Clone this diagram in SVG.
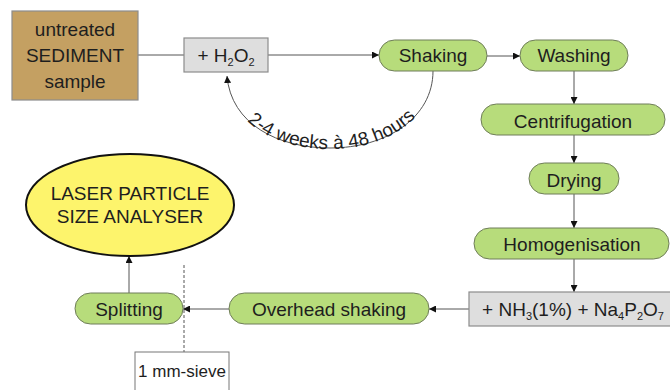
<svg xmlns="http://www.w3.org/2000/svg" width="670" height="390" viewBox="0 0 670 390">
<defs>
<style>
text{font-family:"Liberation Sans",Arial,sans-serif;font-size:19px;fill:#1e1e1e;text-anchor:middle}
.green{fill:#b7dc7b;stroke:#6f7d5a;stroke-width:1}
.gray{fill:#dedede;stroke:#8c8c8c;stroke-width:1.2}
.conn{fill:none;stroke:#555;stroke-width:1}
.sub{font-size:11px}
</style>
<marker id="arr" viewBox="0 0 10 10" refX="10" refY="5" markerWidth="7" markerHeight="7" orient="auto-start-reverse" markerUnits="userSpaceOnUse">
<path d="M0,0 L10,5 L0,10 z" fill="#111"/>
</marker>
</defs>
<rect width="670" height="390" fill="#fff"/>
<g id="connectors">
<line class="conn" x1="138" y1="55" x2="184" y2="55"/>
<line class="conn" x1="268" y1="55" x2="379" y2="55" marker-end="url(#arr)"/>
<line class="conn" x1="487" y1="56" x2="520" y2="56" marker-end="url(#arr)"/>
<line class="conn" x1="574" y1="71" x2="574" y2="104" marker-end="url(#arr)"/>
<line class="conn" x1="574" y1="135" x2="574" y2="163" marker-end="url(#arr)"/>
<line class="conn" x1="574" y1="194" x2="574" y2="228" marker-end="url(#arr)"/>
<line class="conn" x1="574" y1="259" x2="574" y2="292" marker-end="url(#arr)"/>
<line class="conn" x1="469" y1="309" x2="429" y2="309" marker-end="url(#arr)"/>
<line class="conn" x1="229" y1="309" x2="183" y2="309" marker-end="url(#arr)"/>
<line class="conn" x1="129" y1="293" x2="129" y2="256" marker-end="url(#arr)"/>
<line class="conn" x1="184" y1="265" x2="184" y2="352" stroke-dasharray="3,2"/>
<path id="loop" class="conn" d="M227,76 C231,124 278,148 330,148 C386,148 433,118 433,71" marker-start="url(#arr)"/>
<text dy="1"><textPath href="#loop" startOffset="50%">2-4 weeks à 48 hours</textPath></text>
</g>
<g id="sediment">
<rect x="12" y="11" width="126" height="89" fill="#c4a062" stroke="#8c8c8c" stroke-width="1.2"/>
<text x="75" y="36">untreated</text>
<text x="75" y="62">SEDIMENT</text>
<text x="75" y="88">sample</text>
</g>
<g id="h2o2">
<rect class="gray" x="184" y="38" width="84" height="34"/>
<text x="226" y="62">+ H<tspan class="sub" dy="4">2</tspan><tspan dy="-4">O</tspan><tspan class="sub" dy="4">2</tspan></text>
</g>
<g id="shaking">
<rect class="green" x="379" y="40" width="108" height="31" rx="15.5"/>
<text x="433" y="62">Shaking</text>
</g>
<g id="washing">
<rect class="green" x="520" y="40" width="108" height="31" rx="15.5"/>
<text x="574" y="62">Washing</text>
</g>
<g id="centrifugation">
<rect class="green" x="481" y="104" width="184" height="31" rx="15.5"/>
<text x="573" y="128">Centrifugation</text>
</g>
<g id="drying">
<rect class="green" x="529" y="163" width="90" height="31" rx="15.5"/>
<text x="574" y="187">Drying</text>
</g>
<g id="homogenisation">
<rect class="green" x="474" y="228" width="195" height="31" rx="15.5"/>
<text x="572" y="251">Homogenisation</text>
</g>
<g id="dispersant">
<rect class="gray" x="469" y="292" width="205" height="34"/>
<text x="573" y="316">+ NH<tspan class="sub" dy="4">3</tspan><tspan dy="-4">(1%) + Na</tspan><tspan class="sub" dy="4">4</tspan><tspan dy="-4">P</tspan><tspan class="sub" dy="4">2</tspan><tspan dy="-4">O</tspan><tspan class="sub" dy="4">7</tspan></text>
</g>
<g id="overhead">
<rect class="green" x="229" y="293" width="200" height="31" rx="15.5"/>
<text x="329" y="316">Overhead shaking</text>
</g>
<g id="splitting">
<rect class="green" x="75" y="293" width="108" height="31" rx="15.5"/>
<text x="129" y="316">Splitting</text>
</g>
<g id="sieve">
<rect x="135" y="352" width="94" height="40" fill="#fff" stroke="#777" stroke-width="1"/>
<text x="182" y="377" style="font-size:17px">1 mm-sieve</text>
</g>
<g id="analyser">
<ellipse cx="130" cy="205" rx="104" ry="51" fill="#fdf46c" stroke="#111" stroke-width="2"/>
<text x="130" y="200">LASER PARTICLE</text>
<text x="130" y="223">SIZE ANALYSER</text>
</g>
</svg>
